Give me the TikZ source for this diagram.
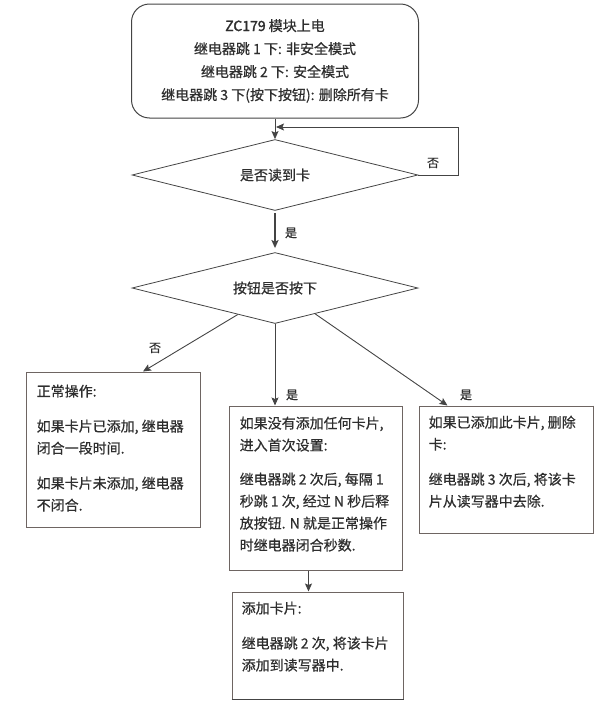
\documentclass[tikz,border=0pt]{standalone}
\usepackage{fontspec}
\setmainfont{Noto Sans CJK SC}[FakeBold=0.6]
\newfontfamily\boldlat{Noto Sans CJK SC}[FakeBold=2]
\usetikzlibrary{shapes.geometric,arrows.meta,calc}
\definecolor{ink}{HTML}{2E2E2E}
\definecolor{edge}{HTML}{444444}
\definecolor{boxedge}{HTML}{6E6562}
\begin{document}
\begin{tikzpicture}[x=1pt,y=-1pt,
  every node/.style={text=ink},
  arr/.style={draw=edge, line width=0.9pt, -{Stealth[length=8pt,width=7pt,inset=1.5pt]}},
  arrthick/.style={arr, line width=1.8pt},
  dec/.style={diamond, aspect=4, draw=edge, line width=0.8pt, minimum width=286pt, minimum height=71pt, inner sep=0pt, font=\fontsize{14}{16}\selectfont},
  box/.style={rectangle, draw=boxedge, line width=1pt, inner sep=0pt},
  boxtext/.style={anchor=north west, inner sep=0pt, align=left, font=\fontsize{14}{22}\selectfont},
  lab/.style={font=\fontsize{12}{14}\selectfont, inner sep=0pt},
]
\useasboundingbox (0,0) rectangle (600,707);

\node[draw=edge, line width=1pt, rounded corners=18pt, minimum width=287pt, minimum height=114pt,
      align=center, font=\fontsize{14}{23}\selectfont] (start) at (275,61)
  {{\boldlat ZC179} 模块上电\\继电器跳 1 下: 非安全模式\\继电器跳 2 下: 安全模式\\继电器跳 3 下(按下按钮): 删除所有卡};

\node[dec] (d1) at (275,175) {是否读到卡};
\node[dec] (d2) at (275,288) {按钮是否按下};

\node[box, minimum width=174pt, minimum height=155pt] (left) at (113,449.5) {};
\node[box, minimum width=173pt, minimum height=164pt] (mid) at (315.5,488) {};
\node[box, minimum width=174pt, minimum height=127pt] (right) at (506,469.5) {};
\node[box, minimum width=171pt, minimum height=107pt] (add) at (317.5,645.5) {};
\draw[boxedge, line width=1.8pt] (right.north east) -- (right.south east);
\draw[edge, line width=1.8pt] (add.south west) -- (add.south east);

\node[boxtext] (lefttext) at ([xshift=11pt,yshift=-13pt]left.north west)
  {正常操作:\\[13pt]如果卡片已添加, 继电器\\闭合一段时间.\\[13pt]如果卡片未添加, 继电器\\不闭合.};
\node[boxtext] (midtext) at ([xshift=11pt,yshift=-11pt]mid.north west)
  {如果没有添加任何卡片,\\进入首次设置:\\[12pt]继电器跳 2 次后, 每隔 1\\秒跳 1 次, 经过 N 秒后释\\放按钮. N 就是正常操作\\时继电器闭合秒数.};
\node[boxtext] (righttext) at ([xshift=10pt,yshift=-10pt]right.north west)
  {如果已添加此卡片, 删除\\卡:\\[13pt]继电器跳 3 次后, 将该卡\\片从读写器中去除.};
\node[boxtext] (addtext) at ([xshift=10pt,yshift=-10pt]add.north west)
  {添加卡片:\\[13pt]继电器跳 2 次, 将该卡片\\添加到读写器中.};

% connectors
\draw[arr] (start.south) -- (d1.north);
\coordinate (loopA) at (458,175);
\coordinate (loopB) at (458,127);
\coordinate (loopC) at (276,127);
\draw[arr] (d1.east) -- (loopA) -- (loopB) -- (loopC);
\node[lab] (no1) at (433,163) {否};

\draw[arrthick, shorten <=2pt, shorten >=4pt] (d1.south) -- (d2.north);
\node[lab] (yes1) at (291,233) {是};

\draw[arr] ($(d2.west)!0.74!(d2.south)$) -- ([xshift=30pt]left.north);
\node[lab] (no2) at (155,348) {否};

\draw[arr] (d2.south) -- (d2.south |- mid.north);
\node[lab] (yes2) at (292,395) {是};

\draw[arr] ($(d2.south)!0.28!(d2.east)$) -- ([xshift=29pt]right.north west);
\node[lab] (yes3) at (466,395) {是};

\draw[arr] ([xshift=-7pt]mid.south) -- ([xshift=-7pt]mid.south |- add.north);
\end{tikzpicture}
\end{document}
